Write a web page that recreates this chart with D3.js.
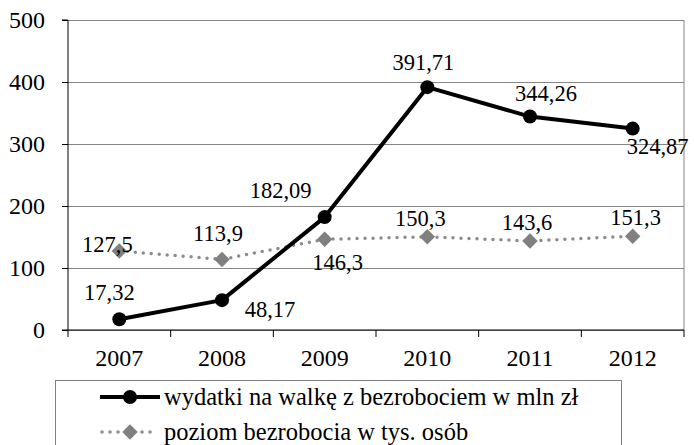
<!DOCTYPE html>
<html>
<head>
<meta charset="utf-8">
<script src="https://cdn.jsdelivr.net/npm/d3@7"></script>
<style>
  html, body { margin: 0; padding: 0; background: #fff; }
  svg { display: block; }
</style>
</head>
<body>
<svg id="chart" width="694" height="445"></svg>
<script>
// ---- data ----
const years = ["2007", "2008", "2009", "2010", "2011", "2012"];
const wydatki = [17.32, 48.17, 182.09, 391.71, 344.26, 324.87];
const bezrobocie = [127.5, 113.9, 146.3, 150.3, 143.6, 151.3];
const wydatkiLabels = ["17,32", "48,17", "182,09", "391,71", "344,26", "324,87"];
const bezrobocieLabels = ["127,5", "113,9", "146,3", "150,3", "143,6", "151,3"];
const yTicks = [0, 100, 200, 300, 400, 500];
const seriesNames = ["wydatki na walkę z bezrobociem w mln zł", "poziom bezrobocia w tys. osób"];

// label placement (offset of text centre / baseline from the marker)
const wydatkiLabelOffsets = [[-10, -19], [48, 17], [-44, -19], [-4, -17], [16, -16], [25, 25]];
const bezrobocieLabelOffsets = [[-12, 1], [-4, -18], [13, 31], [-7, -11], [-3, -11], [3, -11]];

// ---- layout ----
const svg = d3.select("#chart");
const L = 68, R = 684, T = 20, B = 330;
const AXIS_FONT = 24, LABEL_FONT = 22.5, LEGEND_FONT = 24.5;
const grey = "#868686";

const x = d3.scaleBand().domain(years).range([L, R]).padding(0);
const y = d3.scaleLinear().domain([0, 500]).range([B, T]);
const cx = d => x(d) + x.bandwidth() / 2;

function styleText(sel, size) {
  sel.attr("font-family", "Liberation Serif").attr("font-size", size)
     .style("font-family", '"Liberation Serif"').style("font-size", size + "px")
     .attr("fill", "#000");
}

// gridlines
svg.append("g")
  .attr("transform", `translate(${L},0)`)
  .call(d3.axisLeft(y).tickValues(yTicks).tickSize(-(R - L)).tickFormat(""))
  .call(g => g.select(".domain").remove())
  .call(g => g.selectAll(".tick line").attr("stroke", grey).attr("stroke-width", 1));

// right border
svg.append("line").attr("x1", R).attr("x2", R).attr("y1", T).attr("y2", B)
  .attr("stroke", grey).attr("stroke-width", 1);

// y axis
svg.append("g")
  .attr("transform", `translate(${L},0)`)
  .call(d3.axisLeft(y).tickValues(yTicks).tickSize(6).tickPadding(17).tickFormat(d3.format("d")))
  .call(g => g.select(".domain").attr("stroke", "#000").attr("d", `M-6,${T}H0V${B}H-6`))
  .call(g => g.selectAll(".tick line").attr("stroke", "#000"))
  .call(g => g.selectAll("text").call(styleText, AXIS_FONT));

// x axis
const xg = svg.append("g")
  .attr("transform", `translate(0,${B})`)
  .call(d3.axisBottom(x).tickSize(0).tickPadding(0))
  .call(g => g.select(".domain").attr("stroke", "#000").attr("d", `M${L},0H${R}`))
  .call(g => g.selectAll("text").call(styleText, AXIS_FONT).attr("y", 36).attr("dy", 0));
// boundary ticks
const bounds = years.map(d => x(d)).concat([R]);
xg.selectAll(".btick").data(bounds).enter().append("line")
  .attr("x1", d => d).attr("x2", d => d).attr("y1", 0).attr("y2", 7)
  .attr("stroke", "#000");

// series B: dotted grey with diamonds
const lineGen = d3.line().x((d, i) => cx(years[i])).y(d => y(d));
svg.append("path").datum(bezrobocie)
  .attr("d", lineGen).attr("fill", "none").attr("stroke", "#8c8c8c")
  .attr("stroke-width", 3.5).attr("stroke-linecap", "round").attr("stroke-dasharray", "0 8");
const diamond = d3.symbol().type(d3.symbolSquare).size(120);
svg.selectAll(".dia").data(bezrobocie).enter().append("path")
  .attr("d", diamond)
  .attr("transform", (d, i) => `translate(${cx(years[i])},${y(d)}) rotate(45)`)
  .attr("fill", "#808080");

// series A: solid black with circles
svg.append("path").datum(wydatki)
  .attr("d", lineGen).attr("fill", "none").attr("stroke", "#000")
  .attr("stroke-width", 4).attr("stroke-linejoin", "round");
svg.selectAll(".dot").data(wydatki).enter().append("circle")
  .attr("cx", (d, i) => cx(years[i])).attr("cy", d => y(d)).attr("r", 7).attr("fill", "#000");

// data labels
svg.selectAll(".labA").data(wydatki).enter().append("text")
  .attr("x", (d, i) => cx(years[i]) + wydatkiLabelOffsets[i][0])
  .attr("y", (d, i) => y(d) + wydatkiLabelOffsets[i][1])
  .attr("text-anchor", "middle").call(styleText, LABEL_FONT)
  .text((d, i) => wydatkiLabels[i]);
svg.selectAll(".labB").data(bezrobocie).enter().append("text")
  .attr("x", (d, i) => cx(years[i]) + bezrobocieLabelOffsets[i][0])
  .attr("y", (d, i) => y(d) + bezrobocieLabelOffsets[i][1])
  .attr("text-anchor", "middle").call(styleText, LABEL_FONT)
  .text((d, i) => bezrobocieLabels[i]);

// legend
const lg = svg.append("g");
lg.append("rect").attr("x", 55.5).attr("y", 380.5).attr("width", 566).attr("height", 100)
  .attr("fill", "#fff").attr("stroke", "#808080").attr("stroke-width", 1);
// entry 1
lg.append("line").attr("x1", 100).attr("x2", 160).attr("y1", 397).attr("y2", 397)
  .attr("stroke", "#000").attr("stroke-width", 4);
lg.append("circle").attr("cx", 130).attr("cy", 397).attr("r", 7).attr("fill", "#000");
lg.append("text").attr("x", 164).attr("y", 405).call(styleText, LEGEND_FONT).text(seriesNames[0]);
// entry 2
lg.append("line").attr("x1", 102).attr("x2", 158).attr("y1", 432).attr("y2", 432)
  .attr("stroke", "#8c8c8c").attr("stroke-width", 3.5).attr("stroke-linecap", "round")
  .attr("stroke-dasharray", "0 8");
lg.append("path").attr("d", diamond).attr("transform", "translate(130,432) rotate(45)").attr("fill", "#808080");
lg.append("text").attr("x", 164).attr("y", 440).call(styleText, LEGEND_FONT).text(seriesNames[1]);
</script>
</body>
</html>
